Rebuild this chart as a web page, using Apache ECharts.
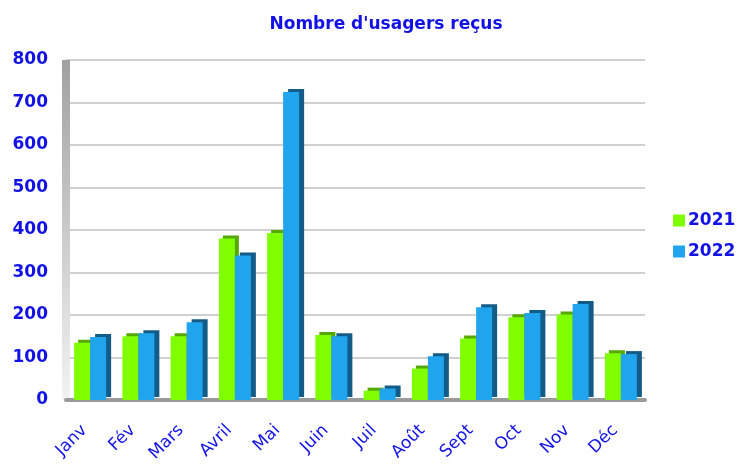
<!DOCTYPE html>
<html><head><meta charset="utf-8">
<script src="https://cdn.jsdelivr.net/npm/echarts@6/dist/echarts.min.js"></script>
<style>html,body{margin:0;padding:0;background:#fff}#c{width:739px;height:468px}</style>
</head><body><div id="c"></div>
<script>
const categories = ['Janv','Fév','Mars','Avril','Mai','Juin','Juil','Août','Sept','Oct','Nov','Déc'];
const values2021 = [135,150,150,380,393,153,22,74,145,195,201,110];
const values2022 = [148,157,183,340,725,150,27,103,218,205,226,108];
const yTicks = [0,100,200,300,400,500,600,700,800];

const blue = '#1212e6';
const font = 'DejaVu Sans';
const chart = echarts.init(document.getElementById('c'));
chart.setOption({
  animation:false,
  title:{text:"Nombre d'usagers reçus",left:381,textAlign:'center',top:11,
    textStyle:{color:blue,fontFamily:font,fontSize:17,fontWeight:'bold'}},
  legend:{orient:'vertical',left:668,top:207,itemWidth:12,itemHeight:12,itemGap:14,icon:'rect',
    textStyle:{color:blue,fontFamily:font,fontSize:17,fontWeight:'bold',padding:[0,0,0,-2]}},
  grid:{left:66,right:94,top:60,bottom:68},
  xAxis:{type:'category',data:categories,
    axisLine:{lineStyle:{color:'#9a9a9a',width:4}},axisTick:{show:false},
    axisLabel:{rotate:45,color:blue,fontFamily:font,fontSize:17,margin:22,padding:[0,8,0,0]}},
  yAxis:{type:'value',min:0,max:800,interval:100,
    axisLine:{show:true,lineStyle:{width:8,cap:'butt',color:new echarts.graphic.LinearGradient(0,0,0,1,[{offset:0,color:'#a0a0a0'},{offset:1,color:'#f4f4f4'}])}},
    axisLabel:{color:blue,fontFamily:font,fontSize:17,fontWeight:'bold',margin:18,
      formatter:v=>yTicks.includes(v)?String(v):''},
    splitLine:{lineStyle:{color:'#d0d0d0',width:2}}},
  series:[
    {name:'2021',type:'bar',data:values2021,barWidth:16,barGap:'0%',
      itemStyle:{color:'#80ff00',
        shadowColor:'#55a800',shadowOffsetX:4,shadowOffsetY:-3,shadowBlur:0}},
    {name:'2022',type:'bar',data:values2022,barWidth:16,
      itemStyle:{color:'#20a4ee',
        shadowColor:'#135c88',shadowOffsetX:5,shadowOffsetY:-3,shadowBlur:0}}
  ]
});
</script></body></html>
